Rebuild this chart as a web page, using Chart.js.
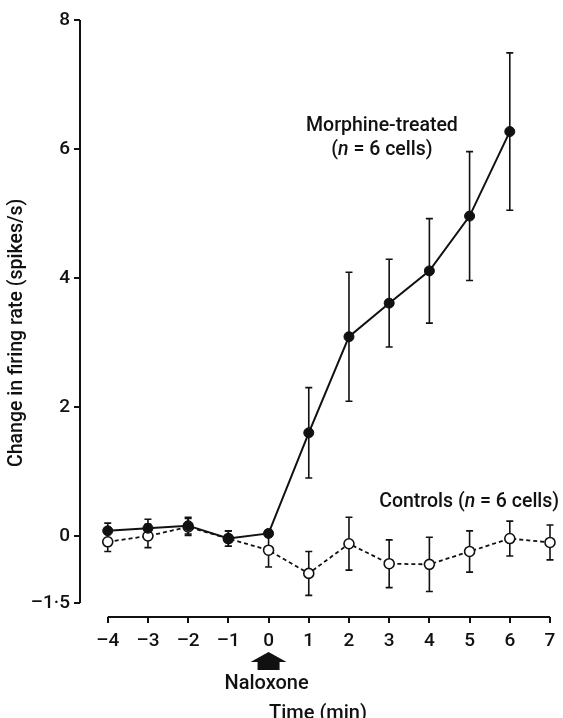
<!DOCTYPE html>
<html>
<head>
<meta charset="utf-8">
<script src="https://cdn.jsdelivr.net/npm/chart.js@4.4.1/dist/chart.umd.min.js"></script>
<style>
  body { margin: 0; background: #fff; }
  canvas { display: block; }
</style>
</head>
<body>
<canvas id="chart" width="563" height="718"></canvas>
<script>
// Data
const minutes = [-4, -3, -2, -1, 0, 1, 2, 3, 4, 5, 6, 7];

const morphineMean = [0.08, 0.12, 0.16, -0.04, 0.04, 1.6, 3.09, 3.61, 4.11, 4.96, 6.27];
const morphineErr  = [0.12, 0.14, 0.13, 0.12, 0.05, 0.7, 1.0, 0.68, 0.81, 1.0, 1.22];

const controlMean = [-0.09, 0.0, 0.14, -0.04, -0.22, -0.58, -0.12, -0.43, -0.44, -0.24, -0.04, -0.10];
const controlErr  = [0.15, 0.18, 0.13, 0.12, 0.26, 0.34, 0.41, 0.37, 0.42, 0.32, 0.27, 0.27];

// y axis is compressed below zero in the original; bottom tick sits here
const yTickValues = [-1.04, 0, 2, 4, 6, 8];
const yTickLabels = ['\u20131\u00b75', '0', '2', '4', '6', '8'];
const xTickValues = minutes;

const FONT = 'Roboto, "Liberation Sans", Arial, sans-serif';
const INK = '#111';

function toPoints(values) {
    return values.map((v, i) => ({ x: minutes[i], y: v }));
}

// Draw vertical error bars with caps
const errorBars = {
    id: 'errorBars',
    beforeDatasetsDraw(chart) {
        const { ctx, scales: { x, y } } = chart;
        ctx.save();
        ctx.strokeStyle = INK;
        ctx.lineWidth = 1.6;
        chart.data.datasets.forEach(ds => {
            ds.data.forEach((p, i) => {
                const e = ds.errors[i];
                const px = x.getPixelForValue(p.x);
                const top = y.getPixelForValue(p.y + e);
                const bot = y.getPixelForValue(p.y - e);
                ctx.beginPath();
                ctx.moveTo(px, top); ctx.lineTo(px, bot);
                ctx.moveTo(px - 3.5, top); ctx.lineTo(px + 3.5, top);
                ctx.moveTo(px - 3.5, bot); ctx.lineTo(px + 3.5, bot);
                ctx.stroke();
            });
        });
        ctx.restore();
    }
};

// Axis lines (separated, as in the figure) plus text annotations
const decorations = {
    id: 'decorations',
    afterDraw(chart) {
        const { ctx, chartArea, scales: { x, y } } = chart;
        ctx.save();
        ctx.strokeStyle = INK;
        ctx.lineWidth = 2;
        ctx.beginPath();
        ctx.moveTo(chartArea.left, y.getPixelForValue(8));
        ctx.lineTo(chartArea.left, y.getPixelForValue(yTickValues[0]));
        ctx.moveTo(x.getPixelForValue(-4), chartArea.bottom);
        ctx.lineTo(x.getPixelForValue(7), chartArea.bottom);
        ctx.stroke();

        ctx.fillStyle = INK;
        ctx.textBaseline = 'middle';

        // Naloxone arrow below zero
        const ax = x.getPixelForValue(0);
        const b = chartArea.bottom;
        ctx.beginPath();
        ctx.moveTo(ax, b + 35);
        ctx.lineTo(ax + 18, b + 45);
        ctx.lineTo(ax + 11, b + 45);
        ctx.lineTo(ax + 11, b + 53);
        ctx.lineTo(ax - 11, b + 53);
        ctx.lineTo(ax - 11, b + 45);
        ctx.lineTo(ax - 18, b + 45);
        ctx.closePath();
        ctx.fill();

        ctx.textAlign = 'center';
        ctx.font = '500 20px ' + FONT;
        ctx.fillText('Naloxone', ax - 2, b + 67);

        ctx.font = '500 20px ' + FONT;
        ctx.fillText('Time (min)', (chartArea.left + chartArea.right) / 2 + 3, b + 97);

        // y axis title
        ctx.save();
        ctx.translate(17, y.getPixelForValue(3.15));
        ctx.rotate(-Math.PI / 2);
        ctx.font = '500 19.5px ' + FONT;
        ctx.fillText('Change in firing rate (spikes/s)', 0, 0);
        ctx.restore();

        // series labels with italic n
        const drawRich = (parts, cx, cy) => {
            let total = 0;
            parts.forEach(([t, it]) => {
                ctx.font = (it ? 'italic ' : '') + '500 19.5px ' + FONT;
                total += ctx.measureText(t).width;
            });
            let cur = cx - total / 2;
            ctx.textAlign = 'left';
            parts.forEach(([t, it]) => {
                ctx.font = (it ? 'italic ' : '') + '500 19.5px ' + FONT;
                ctx.fillText(t, cur, cy);
                cur += ctx.measureText(t).width;
            });
        };
        drawRich([['Morphine-treated', false]], x.getPixelForValue(2.82), y.getPixelForValue(6.36));
        drawRich([['(', false], ['n', true], [' = 6 cells)', false]], x.getPixelForValue(2.82), y.getPixelForValue(5.98));
        drawRich([['Controls (', false], ['n', true], [' = 6 cells)', false]], x.getPixelForValue(4.99), y.getPixelForValue(0.53));
        ctx.restore();
    }
};

const chart = new Chart(document.getElementById('chart').getContext('2d'), {
    type: 'line',
    data: {
        datasets: [
            {
                label: 'Morphine-treated',
                data: toPoints(morphineMean),
                errors: morphineErr,
                borderColor: INK,
                borderWidth: 2,
                pointRadius: 5,
                pointBackgroundColor: INK,
                pointBorderColor: INK,
                pointBorderWidth: 1,
                tension: 0,
                clip: false
            },
            {
                label: 'Controls',
                data: toPoints(controlMean),
                errors: controlErr,
                borderColor: INK,
                borderWidth: 1.8,
                borderDash: [4, 3],
                pointRadius: 5,
                pointBackgroundColor: '#fff',
                pointBorderColor: INK,
                pointBorderWidth: 1.6,
                tension: 0,
                clip: false
            }
        ]
    },
    options: {
        responsive: false,
        animation: false,
        layout: { padding: { top: 20, right: 13, left: 0, bottom: 0 } },
        plugins: {
            legend: { display: false },
            tooltip: { enabled: false }
        },
        scales: {
            x: {
                type: 'linear',
                min: -4.69,
                max: 7,
                afterBuildTicks: scale => { scale.ticks = xTickValues.map(v => ({ value: v })); },
                afterFit: scale => { scale.height = 101; },
                border: { display: false },
                grid: { drawOnChartArea: false, color: INK, lineWidth: 2, tickLength: 6 },
                ticks: {
                    color: INK,
                    padding: 7,
                    maxRotation: 0,
                    autoSkip: false,
                    font: { family: FONT, size: 19, weight: '500' },
                    callback: v => String(v).replace('-', '\u2013')
                }
            },
            y: {
                type: 'linear',
                min: -1.256,
                max: 8,
                afterBuildTicks: scale => { scale.ticks = yTickValues.map(v => ({ value: v })); },
                afterFit: scale => { scale.width = 80; },
                border: { display: false },
                grid: { drawOnChartArea: false, color: INK, lineWidth: 2, tickLength: 6 },
                ticks: {
                    color: INK,
                    padding: 4,
                    autoSkip: false,
                    font: { family: FONT, size: 19, weight: '500' },
                    callback: (v, i) => yTickLabels[i]
                }
            }
        }
    },
    plugins: [errorBars, decorations]
});
</script>
</body>
</html>
